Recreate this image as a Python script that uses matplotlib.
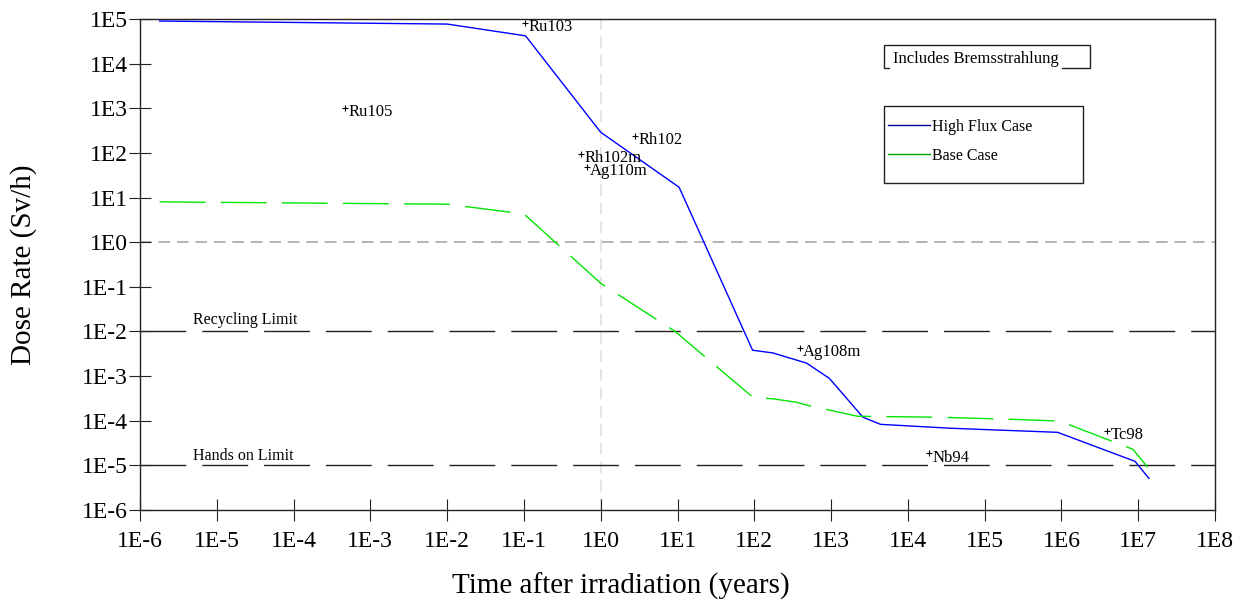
import matplotlib
matplotlib.use("Agg")
import matplotlib.pyplot as plt
from matplotlib.lines import Line2D
from matplotlib.patches import Rectangle
import numpy as np

plt.rcParams['font.family'] = ['Liberation Serif', 'DejaVu Serif']

# ---------------- data ----------------
high_flux_t = [1.8e-6, 1e-2, 1.05e-1, 1e0, 1.05e1, 9.5e1, 1.75e2, 4.8e2, 9.5e2,
               2.6e3, 4.4e3, 3.5e4, 8.9e5, 9.1e6, 1.38e7]
high_flux_d = [9.0e4, 7.7e4, 4.2e4, 2.9e2, 1.7e1, 3.8e-3, 3.3e-3, 1.95e-3, 8.9e-4,
               1.2e-4, 8.3e-5, 6.8e-5, 5.5e-5, 1.23e-5, 5.1e-6]

base_t = [1.8e-6, 1e-2, 1e-1, 1e0, 9.3e0, 9.7e1, 1.75e2, 3.5e2, 6.2e2, 1e3,
          2.2e3, 2.4e4, 2.5e5, 9.5e5, 8.5e6, 1.33e7]
base_d = [8.0e0, 7.1e0, 4.3e0, 1.2e-1, 1.0e-2, 3.3e-4, 3.1e-4, 2.6e-4, 2.0e-4, 1.7e-4,
          1.26e-4, 1.2e-4, 1.07e-4, 9.8e-5, 2.3e-5, 9.1e-6]

recycling_limit = 1e-2
hands_on_limit = 1e-5
reference_dose = 1e0
reference_time = 1e0

nuclides = ['Ru103', 'Ru105', 'Rh102', 'Rh102m', 'Ag110m', 'Ag108m', 'Nb94', 'Tc98']
nuclide_t = [1.02e-1, 4.7e-4, 2.8e0, 5.5e-1, 6.6e-1, 3.9e2, 1.86e4, 3.9e6]
nuclide_d = [8.3e4, 1.0e3, 2.4e2, 9.3e1, 4.8e1, 4.2e-3, 1.86e-5, 6.0e-5]

x_tick_exp = list(range(-6, 9))
y_tick_exp = list(range(-6, 6))
x_tick_labels = ['1E%d' % e for e in x_tick_exp]
y_tick_labels = ['1E%d' % e for e in y_tick_exp]

series_labels = ['High Flux Case', 'Base Case']
note_text = 'Includes Bremsstrahlung'

# ---------------- figure ----------------
W, H = 1251, 609
fig = plt.figure(figsize=(W / 100, H / 100), dpi=100)
ax = fig.add_axes([140 / W, 1 - 510 / H, (1215 - 140) / W, (510 - 19) / H])
ax.set_xscale('log')
ax.set_yscale('log')
ax.set_xlim(1e-6, 1e8)
ax.set_ylim(1e-6, 1e5)

# reference lines
ax.axhline(reference_dose, color='#b4b4b4', lw=1.4, dashes=(6, 3.5), zorder=1)
ax.axvline(reference_time, color='#e4e4e4', lw=1.4, dashes=(6, 3.5), zorder=1)
ax.axhline(recycling_limit, color='#222222', lw=1.0, dashes=(33, 11.5), zorder=2)
ax.axhline(hands_on_limit, color='#222222', lw=1.0, dashes=(33, 11.5), zorder=2)

ax.plot(high_flux_t, high_flux_d, color='#0000ff', lw=1.0, zorder=3)
ax.plot(base_t, base_d, color='#00e600', lw=1.0, dashes=(33, 11), zorder=3)

ax.text(4.9e-6, 1.8e-2, 'Recycling Limit', fontsize=11.5, va='center', ha='left')
ax.text(4.9e-6, 1.66e-5, 'Hands on Limit', fontsize=11.5, va='center', ha='left')

for name, t, d in zip(nuclides, nuclide_t, nuclide_d):
    ax.plot([t], [d], marker='+', color='black', ms=5, mew=0.8, ls='none', zorder=4)
    ax.annotate(name, xy=(t, d), xytext=(2.5, -3), textcoords='offset points',
                fontsize=12, va='center', ha='left')

ax.set_xticks([10.0 ** e for e in x_tick_exp])
ax.set_xticklabels(x_tick_labels)
ax.set_yticks([10.0 ** e for e in y_tick_exp])
ax.set_yticklabels(y_tick_labels)
ax.minorticks_off()
ax.tick_params(axis='both', direction='inout', length=16, width=0.8, labelsize=17,
               color='#222222')
ax.tick_params(axis='y', pad=0.5)
ax.tick_params(axis='x', pad=7)
for s in ax.spines.values():
    s.set_linewidth(1.0)
    s.set_color('#222222')

ax.set_xlabel('Time after irradiation (years)', fontsize=21)
ax.set_ylabel('Dose Rate (Sv/h)', fontsize=21)
ax.xaxis.set_label_coords((621 - 140) / (1215 - 140), -0.128)
ax.yaxis.set_label_coords(-(140 - 37) / (1215 - 140), 0.5)

# note box
fig.patches.append(Rectangle((884 / W, 1 - 68 / H), (1090 - 884) / W, (68 - 45) / H,
                             transform=fig.transFigure, fill=False, ec='#222222', lw=1.0))
fig.text(893 / W, 1 - 59 / H, note_text, fontsize=12, va='center', ha='left',
         bbox=dict(facecolor='white', edgecolor='none', pad=2.5))

# legend (frame drawn separately)
fig.patches.append(Rectangle((884 / W, 1 - 183 / H), (1083 - 884) / W, (183 - 106) / H,
                             transform=fig.transFigure, fill=False, ec='#222222', lw=1.0))
handles = [Line2D([], [], color='#000090', lw=1.0), Line2D([], [], color='#00a000', lw=1.0)]
leg = fig.legend(handles, series_labels, loc='upper left',
                 bbox_to_anchor=(888 / W, 1 - 119 / H),
                 fontsize=11.5, frameon=False,
                 handlelength=2.6, handletextpad=0.15, borderpad=0.0, labelspacing=0.8,
                 borderaxespad=0)

fig.savefig('out.png', dpi=100)
